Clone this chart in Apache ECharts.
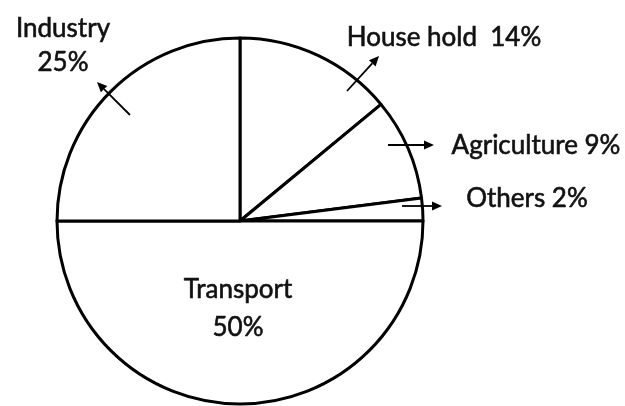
<!DOCTYPE html>
<html><head><meta charset="utf-8">
<script src="https://cdn.jsdelivr.net/npm/echarts@6/dist/echarts.min.js"></script>
<style>html,body{margin:0;padding:0;background:#fff}#c{width:625px;height:406px}</style>
</head><body><div id="c"></div>
<script>
const categories = ['House hold', 'Agriculture', 'Others', 'Transport', 'Industry'];
const shares = [14, 9, 2, 50, 25];
const labelSeparators = ['  ', ' ', ' ', '\n', '\n'];

// label anchor positions (layout only)
const labelPos = [
  {x: 444, y: 38, align: 'center'},
  {x: 536, y: 146, align: 'center'},
  {x: 527, y: 199, align: 'center'},
  {x: 238, y: 309, align: 'center', lh: 38},
  {x: 63, y: 46, align: 'center', lh: 34}
];
// arrows: [x1,y1,x2,y2] (annotation layout)
const arrows = [
  [347, 91, 379, 56],
  [388, 145, 434, 145],
  [402, 206, 442, 206],
  [130, 115, 97, 82]
];

const chart = echarts.init(document.getElementById('c'), null, {renderer: 'canvas'});
const FONT = 'Lato, "Open Sans", sans-serif';

const graphics = [];
arrows.forEach(a => {
  const [x1, y1, x2, y2] = a;
  const ang = Math.atan2(y2 - y1, x2 - x1);
  const L = 10, W = 4.5;
  const bx = x2 - L * Math.cos(ang), by = y2 - L * Math.sin(ang);
  const px = -Math.sin(ang) * W, py = Math.cos(ang) * W;
  graphics.push({type: 'line', shape: {x1, y1, x2: bx, y2: by}, style: {stroke: '#000', lineWidth: 1.8}, z: 10});
  graphics.push({type: 'polygon', shape: {points: [[x2, y2], [bx + px, by + py], [bx - px, by - py]]}, style: {fill: '#000'}, z: 10});
});

chart.setOption({
  backgroundColor: '#fff',
  animation: false,
  graphic: graphics,
  series: [{
    type: 'pie',
    center: [240, 221],
    radius: [0, 183],
    startAngle: 90,
    clockwise: true,
    silent: true,
    itemStyle: {color: '#fff', borderColor: '#000', borderWidth: 3},
    emphasis: {disabled: true},
    labelLine: {show: false},
    label: {
      show: true,
      color: '#111',
      fontFamily: FONT,
      fontSize: 26,
      textBorderColor: '#111',
      textBorderWidth: 0.6,
      overflow: 'none',
      formatter: p => p.name + labelSeparators[p.dataIndex] + p.value + '%'
    },
    labelLayout: p => {
      const pos = labelPos[p.dataIndex];
      return {x: pos.x, y: pos.y, align: pos.align, verticalAlign: 'middle'};
    },
    data: categories.map((n, i) => ({
      name: n, value: shares[i],
      label: {lineHeight: labelPos[i].lh || 30}
    }))
  }]
});
</script></body></html>
